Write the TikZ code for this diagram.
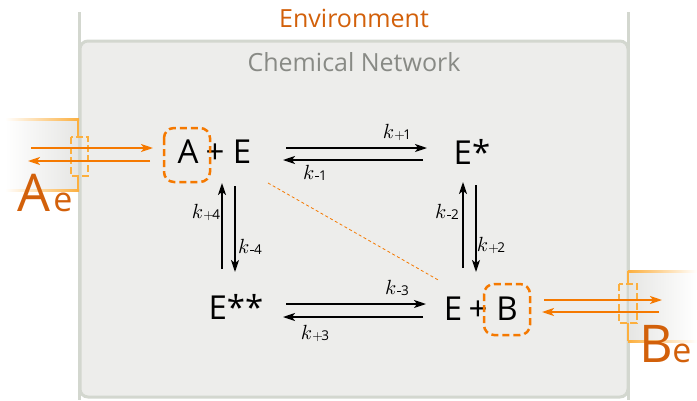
\documentclass[tikz,border=0pt]{standalone}
\usepackage{graphicx}
\usepackage{fontspec}
\setmainfont{Open Sans}
\usetikzlibrary{arrows.meta}
\definecolor{orng}{HTML}{F57900}
\definecolor{dorng}{HTML}{D2600A}
\definecolor{lorng}{HTML}{FCAF3E}
\definecolor{alu}{HTML}{D3D7CF}
\definecolor{netfill}{HTML}{EDEDEB}
\definecolor{gtext}{HTML}{888A85}
\definecolor{resgray}{HTML}{E6E6E4}
\newcommand{\kk}{\scalebox{2.05}{$k$}}
\newcommand{\kplus}[1]{\kk\kern0.3pt\raisebox{-1pt}{\scalebox{1.35}{$\mathrm{+}\mkern-2mu\mathrm{#1}$}}}
\newcommand{\kminus}[1]{\kk\kern0.6pt\rule[2.6pt]{3.6pt}{0.9pt}\kern0.4pt\raisebox{-1pt}{\scalebox{1.35}{$\mathrm{#1}$}}}
\begin{document}
\begin{tikzpicture}[x=1pt,y=-1pt,
  sp/.style={font=\fontsize{33}{38}\selectfont, inner sep=0pt, anchor=base},
  klab/.style={inner sep=0pt},
  rarrow/.style={line width=1.6pt, -{Stealth[length=12pt,width=8pt,inset=3pt]}},
  oarrow/.style={orng, line width=1.8pt, -{Stealth[length=12pt,width=8pt,inset=3pt]}},
  membrane/.style={lorng, line width=2pt},
  channel/.style={lorng, line width=2pt, dash pattern=on 7pt off 3pt},
  selbox/.style={orng, line width=2.5pt, dash pattern=on 7pt off 4pt, rounded corners=10pt}]
\useasboundingbox (0,0) rectangle (697,400);
% environment walls
\draw[alu, line width=3pt] (79.5,12) -- (79.5,400);
\draw[alu, line width=3pt] (628.5,12) -- (628.5,400);
% chemical network box
\draw[alu, line width=3pt, fill=netfill, rounded corners=8pt] (80,41) rectangle (628,397);
\node[font=\fontsize{25}{28}\selectfont, text=dorng] (env) at (354,18) {Environment};
\node[font=\fontsize{25}{28}\selectfont, text=gtext] (net) at (354,62) {Chemical Network};

% left reservoir
\shade[left color=white, right color=resgray] (5,119) rectangle (78,190);
\shade[left color=white, right color=lorng] (5,118) rectangle (79,120.5);
\shade[left color=white, right color=lorng] (5,189) rectangle (79,191.5);
\draw[membrane] (78,119) -- (78,137);
\draw[membrane] (78,176) -- (78,191);
\draw[channel] (71,137) rectangle (88,176);
% right reservoir
\shade[left color=resgray, right color=white] (629,271) rectangle (697,341);
\shade[left color=lorng, right color=white] (628,270) rectangle (697,272.5);
\shade[left color=lorng, right color=white] (628,340) rectangle (697,342.5);
\draw[membrane] (628,271) -- (628,284);
\draw[membrane] (628,323) -- (628,341);
\draw[channel] (619,284) rectangle (637,323);

% species
\node[sp] (A) at (188,163) {A};
\node[sp] (p1) at (215,163) {+};
\node[sp] (E1) at (242,163) {E};
\node[sp] (Es) at (472,164) {E*};
\node[sp] (Ess) at (236,319) {E**};
\node[sp] (E2) at (453,320) {E};
\node[sp] (p2) at (478,320) {+};
\node[sp] (B) at (507,320) {B};
\draw[selbox] (164,128) rectangle (210,182);
\draw[selbox] (484,284) rectangle (530,335);

% external species
\node[font=\fontsize{52}{56}\selectfont, text=dorng, inner sep=0pt, anchor=base] (Ae) at (34,211) {A};
\node[font=\fontsize{34}{36}\selectfont, text=dorng, inner sep=0pt, anchor=base] (Aes) at (63,211) {e};
\node[font=\fontsize{52}{56}\selectfont, text=dorng, inner sep=0pt, anchor=base] (Be) at (656,362) {B};
\node[font=\fontsize{34}{36}\selectfont, text=dorng, inner sep=0pt, anchor=base] (Bes) at (682,362) {e};

% transport arrows
\coordinate (al1) at (31,148); \coordinate (ar1) at (153,148);
\coordinate (ar2) at (150,161); \coordinate (al2) at (28,161);
\draw[oarrow] (al1) -- (ar1);
\draw[oarrow] (ar2) -- (al2);
\coordinate (bl1) at (544,300); \coordinate (br1) at (662,300);
\coordinate (br2) at (659,312); \coordinate (bl2) at (542,312);
\draw[oarrow] (bl1) -- (br1);
\draw[oarrow] (br2) -- (bl2);

% reactions
\coordinate (t1s) at (286,148); \coordinate (t1e) at (427,148);
\coordinate (t2s) at (423,160); \coordinate (t2e) at (283,160);
\draw[rarrow] (t1s) -- (t1e);
\draw[rarrow] (t2s) -- (t2e);
\node[klab] (k1p) at (397,132) {\kplus{1}};
\node[klab] (k1m) at (315,173) {\kminus{1}};

\coordinate (b1s) at (286,304); \coordinate (b1e) at (426,304);
\coordinate (b2s) at (423,317); \coordinate (b2e) at (283,317);
\draw[rarrow] (b1s) -- (b1e);
\draw[rarrow] (b2s) -- (b2e);
\node[klab] (k3m) at (397,288) {\kminus{3}};
\node[klab] (k3p) at (315,333) {\kplus{3}};

\coordinate (l1s) at (222,269); \coordinate (l1e) at (222,183);
\coordinate (l2s) at (235,186); \coordinate (l2e) at (235,272);
\draw[rarrow] (l1s) -- (l1e);
\draw[rarrow] (l2s) -- (l2e);
\node[klab] (k4p) at (206,212) {\kplus{4}};
\node[klab] (k4m) at (250,247) {\kminus{4}};

\coordinate (r1s) at (463,268); \coordinate (r1e) at (463,182);
\coordinate (r2s) at (476,185); \coordinate (r2e) at (476,272);
\draw[rarrow] (r1s) -- (r1e);
\draw[rarrow] (r2s) -- (r2e);
\node[klab] (k2m) at (447,212) {\kminus{2}};
\node[klab] (k2p) at (491,245) {\kplus{2}};

% diagonal
\coordinate (d1) at (268,183); \coordinate (d2) at (440,281);
\draw[orng, line width=0.8pt, dash pattern=on 3pt off 2.5pt] (d1) -- (d2);
\end{tikzpicture}
\end{document}
